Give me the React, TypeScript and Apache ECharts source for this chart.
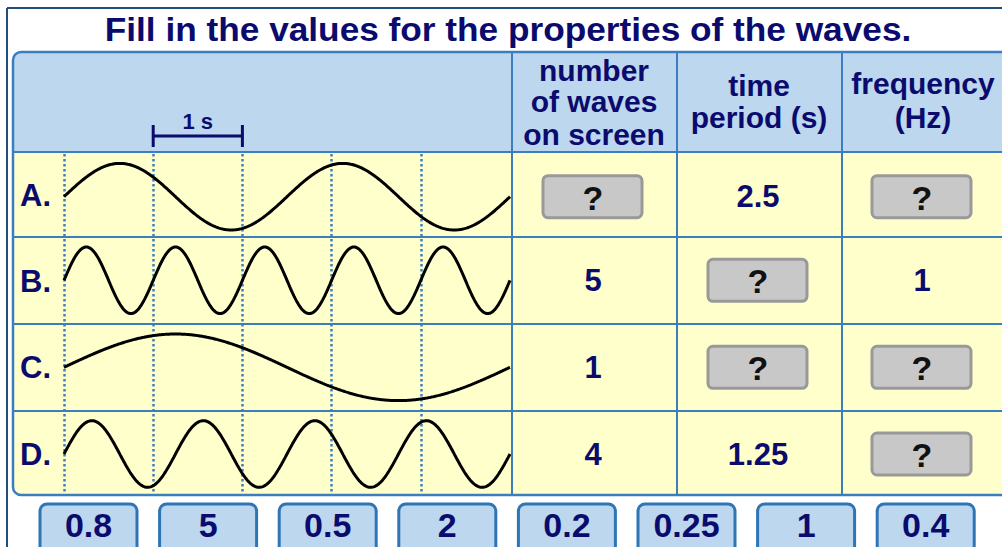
import React, { useEffect, useRef } from "react";
import * as echarts from "echarts";

// ---------- data ----------
const titleText = "Fill in the values for the properties of the waves.";
const rowLabels = ["A.", "B.", "C.", "D."];
const periodsSeconds = [2.5, 1, 5, 1.25];
const screenSeconds = 5;
const headerCol1 = ["number", "of waves", "on screen"];
const headerCol2 = ["time", "period (s)"];
const headerCol3 = ["frequency", "(Hz)"];
const wavesOnScreen = ["?", "5", "1", "4"];
const timePeriods = ["2.5", "?", "?", "1.25"];
const frequencies = ["?", "1", "?", "?"];
const answerChoices = ["0.8", "5", "0.5", "2", "0.2", "0.25", "1", "0.4"];
const scaleLabel = "1 s";

// ---------- layout ----------
const NAVY = "#0b0b6e";
const LINE = "#3b7ec0";
const FONT = '"Liberation Sans", Arial, sans-serif';
const rowCenters = [196.7, 280.3, 367.3, 454];
const labelCenters = [195, 281, 367.5, 454];
const amp = 33.3;
const waveLeft = 64;
const waveWidth = 446;
const tableLeft = 13;
const tableTop = 52;
const tableBottom = 495;
const tableRight = 1010;
const headerBottom = 152;
const rowLines = [152, 237, 324, 411];
const colLines = [512, 677, 842];
const colCenters = [594, 759, 923];

function waveData(period: number): number[][] {
  const pts: number[][] = [];
  const steps = 500;
  for (let k = 0; k <= steps; k++) {
    const t = (screenSeconds * k) / steps;
    pts.push([t, Math.sin((2 * Math.PI * t) / period)]);
  }
  return pts;
}

function txt(x: number, y: number, text: string, size: number, fill = NAVY, extra: any = {}) {
  return {
    type: "text",
    x,
    y,
    z: 20,
    ...extra,
    style: {
      text,
      x: 0,
      y: 0,
      fill,
      font: `bold ${size}px ${FONT}`,
      textAlign: extra.align || "center",
      textVerticalAlign: "middle",
    },
  };
}

function line(x1: number, y1: number, x2: number, y2: number, stroke: string, w: number, z = 3) {
  return { type: "line", z, shape: { x1, y1, x2, y2 }, style: { stroke, lineWidth: w } };
}

export default function App() {
  const ref = useRef<HTMLDivElement>(null);

  useEffect(() => {
    document.body.style.margin = "0";
    document.body.style.overflow = "hidden";
    if (!ref.current) return;
    const chart = echarts.init(ref.current, undefined, { renderer: "svg" });

    const grids: any[] = [];
    const xAxes: any[] = [];
    const yAxes: any[] = [];
    const series: any[] = [];

    periodsSeconds.forEach((p, i) => {
      grids.push({ left: waveLeft, width: waveWidth, top: rowCenters[i] - amp, height: amp * 2 });
      xAxes.push({ gridIndex: i, type: "value", min: 0, max: screenSeconds, show: false });
      yAxes.push({ gridIndex: i, type: "value", min: -1, max: 1, show: false });
      series.push({
        type: "line",
        xAxisIndex: i,
        yAxisIndex: i,
        data: waveData(p),
        showSymbol: false,
        clip: false,
        silent: true,
        z: 10,
        lineStyle: { color: "#000000", width: 3 },
      });
    });

    // dotted one-second grid
    grids.push({ left: waveLeft, width: waveWidth, top: headerBottom + 2, height: tableBottom - headerBottom - 3 });
    xAxes.push({
      gridIndex: 4,
      type: "value",
      min: 0,
      max: screenSeconds,
      interval: 1,
      z: 5,
      axisLine: { show: false },
      axisTick: { show: false },
      axisLabel: { show: false },
      splitLine: {
        show: true,
        showMinLine: true,
        showMaxLine: false,
        lineStyle: { color: "#3f7fbf", width: 2.5, type: [2.5, 2.5] },
      },
    });
    yAxes.push({ gridIndex: 4, type: "value", min: 0, max: 1, show: false });
    series.push({ type: "line", xAxisIndex: 4, yAxisIndex: 4, data: [], silent: true });

    const g: any[] = [];
    // outer frame
    g.push(line(7, 8, 1002, 8, "#1f4e79", 2, 2));
    g.push(line(7, 8, 7, 547, "#1f4e79", 2, 2));
    // title
    g.push(txt(508, 29.5, titleText, 33, NAVY, { scaleX: 1.068 }));
    // table body
    g.push({
      type: "rect",
      z: 1,
      shape: { x: tableLeft, y: tableTop, width: tableRight - tableLeft, height: tableBottom - tableTop, r: 8 },
      style: { fill: "#ffffcc" },
    });
    g.push({
      type: "rect",
      z: 1,
      shape: { x: tableLeft, y: tableTop, width: tableRight - tableLeft, height: headerBottom - tableTop, r: [8, 0, 0, 0] },
      style: { fill: "#bdd7ee" },
    });
    g.push({
      type: "rect",
      z: 3,
      shape: { x: tableLeft, y: tableTop, width: tableRight - tableLeft, height: tableBottom - tableTop, r: 8 },
      style: { fill: "none", stroke: LINE, lineWidth: 2.5 },
    });
    rowLines.forEach((y) => g.push(line(tableLeft, y, tableRight, y, LINE, 2)));
    colLines.forEach((x) => g.push(line(x, tableTop, x, tableBottom, LINE, 2)));

    // scale bar
    const sx1 = waveLeft + waveWidth / screenSeconds;
    const sx2 = waveLeft + (2 * waveWidth) / screenSeconds;
    g.push(line(sx1, 136, sx2, 136, NAVY, 3, 20));
    g.push(line(sx1, 125, sx1, 147, NAVY, 3, 20));
    g.push(line(sx2, 125, sx2, 147, NAVY, 3, 20));
    g.push(txt((sx1 + sx2) / 2, 121, scaleLabel, 22));

    // headers
    const h1y = [70, 101.5, 134];
    headerCol1.forEach((t, k) => g.push(txt(colCenters[0], h1y[k], t, 30)));
    const h2y = [85, 117];
    headerCol2.forEach((t, k) => g.push(txt(colCenters[1], h2y[k], t, 30)));
    const h3y = [83, 117];
    headerCol3.forEach((t, k) => g.push(txt(colCenters[2], h3y[k], t, 30)));

    // row labels
    rowLabels.forEach((t, i) => g.push(txt(20, labelCenters[i], t, 31, NAVY, { align: "left" })));

    // cells
    const cols = [wavesOnScreen, timePeriods, frequencies];
    cols.forEach((col, c) => {
      col.forEach((v, r) => {
        const cx = colCenters[c] - 1;
        const cy = rowCenters[r];
        if (v === "?") {
          g.push({
            type: "rect",
            z: 15,
            shape: { x: cx - 50, y: cy - 21, width: 99, height: 42, r: 5 },
            style: { fill: "#c8c8c8", stroke: "#999999", lineWidth: 3 },
          });
          g.push(txt(cx, cy + 1, "?", 34, "#111111"));
        } else {
          g.push(txt(cx, cy, v, 31));
        }
      });
    });

    // answer choices
    answerChoices.forEach((a, i) => {
      const x = 40 + i * 119.6;
      g.push({
        type: "rect",
        z: 15,
        shape: { x, y: 504, width: 97, height: 52, r: 7 },
        style: { fill: "#bdd7ee", stroke: "#2e75b6", lineWidth: 3 },
      });
      g.push(txt(x + 48.5, 525, a, 34));
    });

    chart.setOption({
      animation: false,
      backgroundColor: "#ffffff",
      grid: grids,
      xAxis: xAxes,
      yAxis: yAxes,
      series,
      graphic: { elements: g },
    });

    return () => chart.dispose();
  }, []);

  return <div ref={ref} style={{ width: 1002, height: 547 }} />;
}
